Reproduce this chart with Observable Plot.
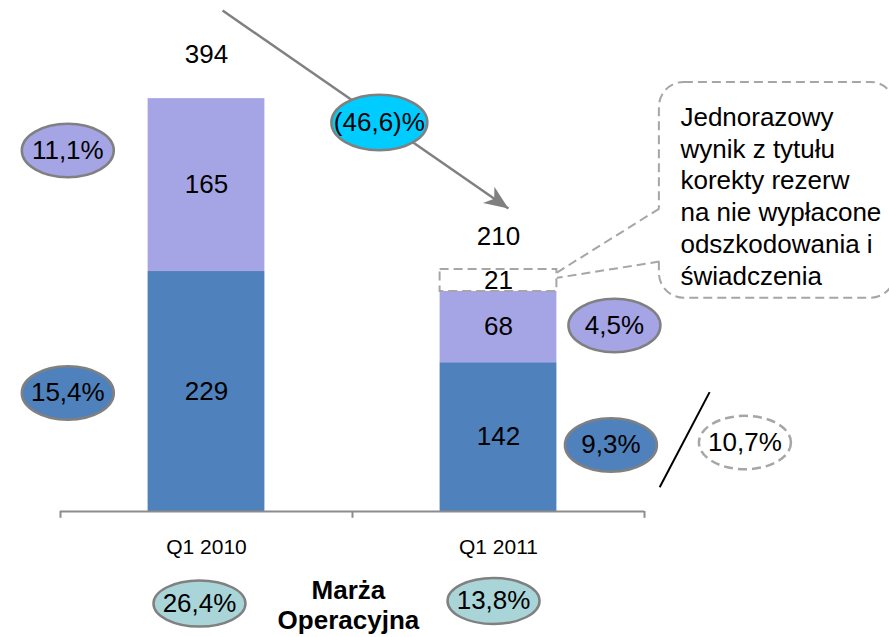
<!DOCTYPE html>
<html>
<head>
<meta charset="utf-8">
<script src="https://cdn.jsdelivr.net/npm/d3@7"></script>
<script src="https://cdn.jsdelivr.net/npm/@observablehq/plot@0.6"></script>
<style>
  html, body { margin: 0; padding: 0; background: #fff; overflow: hidden; }
</style>
</head>
<body>
<div id="chart"></div>
<script>
// ---- data ----
const categories = ["Q1 2010", "Q1 2011"];
const baseValues = [229, 142];          // dark blue segment
const topValues = [165, 68];            // light purple segment
const oneOffValues = [0, 21];           // one-off (dashed box)
const totals = [394, 210];
const baseMargins = ["15,4%", "9,3%"];
const topMargins = ["11,1%", "4,5%"];
const operatingMargins = ["26,4%", "13,8%"];
const changeLabel = "(46,6)%";
const adjustedMargin = "10,7%";
const marginTitle = "Marża\nOperacyjna";
const calloutText = "Jednorazowy\nwynik z tytułu\nkorekty rezerw\nna nie wypłacone\nodszkodowania i\nświadczenia";

// ---- styles ----
const DARK = "#4F81BD", LIGHT = "#A5A5E6", CYAN = "#00CCFF", TEAL = "#A9D5D9";
const GRAY = "#808080", DASH = "#A6A6A6";
const FONT = "Liberation Sans, Arial, sans-serif";
const FS = 26;
const half = 0.2; // bar half width in band units

const rows = categories.map((c, i) => ({
  i, c,
  b0: 0, b1: baseValues[i],
  t0: baseValues[i], t1: baseValues[i] + topValues[i],
  o0: baseValues[i] + topValues[i], o1: baseValues[i] + topValues[i] + oneOffValues[i],
  base: baseValues[i], top: topValues[i], oneOff: oneOffValues[i], total: totals[i]
}));
const oneOffRows = rows.filter(d => d.oneOff > 0);

function ellipse(aspect) {
  return {
    draw(ctx, size) {
      const rx = Math.sqrt(size / Math.PI), ry = rx * aspect, k = 0.5523;
      ctx.moveTo(rx, 0);
      ctx.bezierCurveTo(rx, ry * k, rx * k, ry, 0, ry);
      ctx.bezierCurveTo(-rx * k, ry, -rx, ry * k, -rx, 0);
      ctx.bezierCurveTo(-rx, -ry * k, -rx * k, -ry, 0, -ry);
      ctx.bezierCurveTo(rx * k, -ry, rx, -ry * k, rx, 0);
      ctx.closePath();
    }
  };
}
const arrowHead = {
  draw(ctx) {
    const L = 24, w = 10;
    ctx.moveTo(0, 0);
    ctx.lineTo(w, L);
    ctx.lineTo(0, L * 0.72);
    ctx.lineTo(-w, L);
    ctx.closePath();
  }
};

// annotation positions (data units: x = band index, y = value)
const leftX = -0.475;
const ellipsesSide = [
  {x: leftX, y: 344.5, label: topMargins[0], fill: LIGHT},
  {x: leftX, y: 113.1, label: baseMargins[0], fill: DARK},
  {x: 1.397, y: 177.5, label: topMargins[1], fill: LIGHT},
  {x: 1.385, y: 63.5, label: baseMargins[1], fill: DARK}
];
const ellipsesBottom = [
  {x: -0.024, y: -87.8, label: operatingMargins[0]},
  {x: 0.983, y: -85.4, label: operatingMargins[1]}
];
const changeEl = [{x: 0.592, y: 371.2, label: changeLabel}];
const adjustedEl = [{x: 1.844, y: 65.8, label: adjustedMargin}];
const arrowLine = [{x1: 0.055, y1: 478.1, x2: 1.034, y2: 289.1}];
const slash = [{x1: 1.723, y1: 113.9, x2: 1.552, y2: 23.2}];
const callout = {x1: 1.551, x2: 2.36, y1: 203.5, y2: 409.5};
const pointer = [
  {x1: 1.551, y1: 289.1, x2: 1.2, y2: 228},
  {x1: 1.551, y1: 238.5, x2: 1.2, y2: 223}
];
const ticks = categories.map((_, i) => i - 0.5).concat([categories.length - 0.5]);

const chart = Plot.plot({
  width: 889,
  height: 637,
  marginLeft: 60,
  marginRight: 245,
  marginTop: 8,
  marginBottom: 126,
  x: {domain: [-0.5, 1.5], axis: null},
  y: {domain: [0, 480], axis: null},
  style: {fontFamily: FONT, background: "white", overflow: "hidden"},
  marks: [
    // bars
    Plot.rectY(rows, {x1: d => d.i - half, x2: d => d.i + half, y1: "b0", y2: "b1", fill: DARK}),
    Plot.rectY(rows, {x1: d => d.i - half, x2: d => d.i + half, y1: "t0", y2: "t1", fill: LIGHT}),
    Plot.rectY(oneOffRows, {x1: d => d.i - half, x2: d => d.i + half, y1: "o0", y2: "o1",
      fill: "none", stroke: DASH, strokeWidth: 2, strokeDasharray: "9,5"}),
    // axis
    Plot.ruleY([0], {stroke: "#8C8C8C", strokeWidth: 2}),
    Plot.ruleX(ticks, {x: d => d, y1: 0, y2: -6.5, stroke: "#8C8C8C", strokeWidth: 2}),
    Plot.text(rows, {x: "i", y: -26, text: "c", fontSize: 21, lineAnchor: "top", fill: "#000"}),
    // bar value labels
    Plot.text(rows, {x: "i", y: d => (d.b0 + d.b1) / 2, text: d => String(d.base), fontSize: FS, fill: "#000"}),
    Plot.text(rows, {x: "i", y: d => (d.t0 + d.t1) / 2, text: d => String(d.top), fontSize: FS, fill: "#000"}),
    Plot.text(oneOffRows, {x: "i", y: d => (d.o0 + d.o1) / 2, text: d => String(d.oneOff), fontSize: FS, fill: "#000"}),
    Plot.text(rows, {x: "i", y: d => d.i === 0 ? 436.1 : 261.8, text: d => String(d.total), fontSize: FS, fill: "#000"}),
    // arrow
    Plot.link(arrowLine, {x1: "x1", y1: "y1", x2: "x2", y2: "y2", stroke: GRAY, strokeWidth: 2.5}),
    Plot.dot(arrowLine, {x: "x2", y: "y2", symbol: arrowHead, r: 10, rotate: 124.7, fill: GRAY, stroke: "none"}),
    // side ellipses
    Plot.dot(ellipsesSide, {x: "x", y: "y", r: 46, symbol: ellipse(0.58), fill: "fill", stroke: GRAY, strokeWidth: 2.5}),
    Plot.text(ellipsesSide, {x: "x", y: "y", text: "label", fontSize: FS, fill: "#000"}),
    Plot.dot(changeEl, {x: "x", y: "y", r: 48, symbol: ellipse(0.58), fill: CYAN, stroke: GRAY, strokeWidth: 2.5}),
    Plot.text(changeEl, {x: "x", y: "y", text: "label", fontSize: FS, fill: "#000"}),
    Plot.dot(adjustedEl, {x: "x", y: "y", r: 46, symbol: ellipse(0.58), fill: "white", stroke: DASH, strokeWidth: 2.5, strokeDasharray: "9,5"}),
    Plot.text(adjustedEl, {x: "x", y: "y", text: "label", fontSize: FS, fill: "#000"}),
    Plot.dot(ellipsesBottom, {x: "x", y: "y", r: 46, symbol: ellipse(0.5), fill: TEAL, stroke: GRAY, strokeWidth: 2.5}),
    Plot.text(ellipsesBottom, {x: "x", y: "y", text: "label", fontSize: FS, fill: "#000"}),
    Plot.text([marginTitle], {x: 0.486, y: -63, text: d => d, fontSize: FS, fontWeight: "bold", lineAnchor: "top", lineHeight: 1.15, fill: "#000"}),
    // slash
    Plot.link(slash, {x1: "x1", y1: "y1", x2: "x2", y2: "y2", stroke: "#000", strokeWidth: 2}),
    // callout
    Plot.rect([callout], {x1: "x1", x2: "x2", y1: "y1", y2: "y2", rx: 25, fill: "white", stroke: DASH, strokeWidth: 2, strokeDasharray: "9,5"}),
    Plot.link([pointer[0]], {x1: "x1", y1: "y1", x2: "x1", y2: d => pointer[1].y1, stroke: "white", strokeWidth: 5}),
    Plot.link(pointer, {x1: "x1", y1: "y1", x2: "x2", y2: "y2", stroke: DASH, strokeWidth: 2, strokeDasharray: "9,5"}),
    Plot.text([calloutText], {x: 1.623, y: 389.3, text: d => d, fontSize: FS, textAnchor: "start", lineAnchor: "top", lineHeight: 1.22, fill: "#000"})
  ]
});
document.getElementById("chart").appendChild(chart);
</script>
</body>
</html>
